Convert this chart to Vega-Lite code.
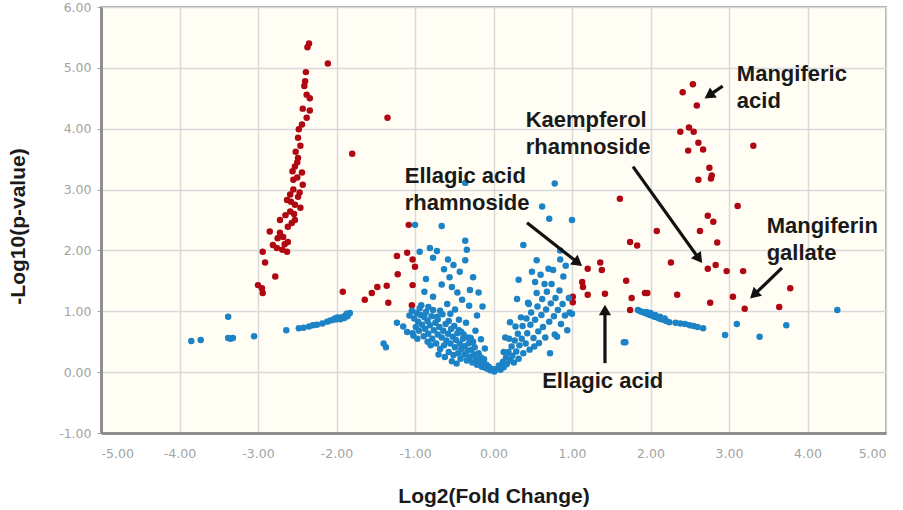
{
  "$schema": "https://vega.github.io/schema/vega-lite/v6.json",
  "width": 785,
  "height": 426,
  "autosize": {"type": "none"},
  "padding": {"left": 101, "top": 7, "right": 17, "bottom": 77},
  "background": "white",
  "config": {
    "view": {"fill": "#fffdf4", "stroke": "#a8a8a8", "strokeWidth": 2},
    "axis": {
      "labelFont": "DejaVu Sans",
      "labelFontSize": 12.5,
      "labelColor": "#a3a3a3",
      "gridColor": "#d9d9d9",
      "gridWidth": 1.5,
      "domainColor": "#8e8e8e",
      "domainWidth": 3,
      "tickColor": "#a3a3a3",
      "titleFont": "Liberation Sans",
      "titleFontSize": 21,
      "titleFontWeight": "bold",
      "titleColor": "#1a1a1a"
    }
  },
  "datasets": {
    "pts": [
      {"x": -2.35, "y": 5.40, "g": "s"}, {"x": -2.37, "y": 5.34, "g": "s"}, {"x": -2.11, "y": 5.07, "g": "s"},
      {"x": -2.39, "y": 4.93, "g": "s"}, {"x": -2.40, "y": 4.78, "g": "s"}, {"x": -2.41, "y": 4.70, "g": "s"},
      {"x": -2.38, "y": 4.56, "g": "s"}, {"x": -2.34, "y": 4.50, "g": "s"}, {"x": -2.43, "y": 4.33, "g": "s"},
      {"x": -2.34, "y": 4.30, "g": "s"}, {"x": -2.38, "y": 4.18, "g": "s"}, {"x": -2.44, "y": 4.07, "g": "s"},
      {"x": -2.48, "y": 3.99, "g": "s"}, {"x": -2.49, "y": 3.85, "g": "s"}, {"x": -1.35, "y": 4.18, "g": "s"},
      {"x": -1.80, "y": 3.59, "g": "s"}, {"x": -2.49, "y": 3.52, "g": "s"}, {"x": -2.53, "y": 3.38, "g": "s"},
      {"x": -2.50, "y": 3.45, "g": "s"}, {"x": -2.44, "y": 3.28, "g": "s"}, {"x": -2.55, "y": 3.16, "g": "s"},
      {"x": -2.43, "y": 3.08, "g": "s"}, {"x": -2.50, "y": 3.20, "g": "s"}, {"x": -2.59, "y": 2.92, "g": "s"},
      {"x": -2.49, "y": 2.88, "g": "s"}, {"x": -2.55, "y": 3.00, "g": "s"}, {"x": -2.63, "y": 2.83, "g": "s"},
      {"x": -2.53, "y": 2.75, "g": "s"}, {"x": -2.46, "y": 2.70, "g": "s"}, {"x": -2.59, "y": 2.64, "g": "s"},
      {"x": -2.54, "y": 2.60, "g": "s"}, {"x": -2.72, "y": 2.50, "g": "s"}, {"x": -2.53, "y": 2.50, "g": "s"},
      {"x": -2.62, "y": 2.39, "g": "s"}, {"x": -2.85, "y": 2.31, "g": "s"}, {"x": -2.72, "y": 2.29, "g": "s"},
      {"x": -2.68, "y": 2.22, "g": "s"}, {"x": -2.62, "y": 2.14, "g": "s"}, {"x": -2.81, "y": 2.09, "g": "s"},
      {"x": -2.76, "y": 2.04, "g": "s"}, {"x": -2.69, "y": 2.01, "g": "s"}, {"x": -2.63, "y": 1.98, "g": "s"},
      {"x": -2.94, "y": 1.98, "g": "s"}, {"x": -2.91, "y": 1.80, "g": "s"}, {"x": -2.78, "y": 1.57, "g": "s"},
      {"x": -3.00, "y": 1.43, "g": "s"}, {"x": -2.95, "y": 1.38, "g": "s"}, {"x": -2.94, "y": 1.30, "g": "s"},
      {"x": -2.58, "y": 2.80, "g": "s"}, {"x": -2.65, "y": 2.58, "g": "s"}, {"x": -2.47, "y": 2.95, "g": "s"},
      {"x": -2.57, "y": 2.45, "g": "s"}, {"x": -2.75, "y": 2.20, "g": "s"}, {"x": -2.66, "y": 2.10, "g": "s"},
      {"x": -2.52, "y": 3.62, "g": "s"}, {"x": -2.46, "y": 3.72, "g": "s"}, {"x": -2.56, "y": 3.30, "g": "s"},
      {"x": -1.92, "y": 1.32, "g": "s"}, {"x": -1.64, "y": 1.19, "g": "s"}, {"x": -1.55, "y": 1.30, "g": "s"},
      {"x": -1.48, "y": 1.40, "g": "s"}, {"x": -1.36, "y": 1.42, "g": "s"}, {"x": -1.34, "y": 1.14, "g": "s"},
      {"x": -1.23, "y": 1.91, "g": "s"}, {"x": -1.22, "y": 1.61, "g": "s"}, {"x": -1.08, "y": 2.42, "g": "s"},
      {"x": -1.10, "y": 1.96, "g": "s"}, {"x": -1.03, "y": 1.85, "g": "s"}, {"x": -1.00, "y": 1.73, "g": "s"},
      {"x": -1.03, "y": 1.43, "g": "s"}, {"x": -1.04, "y": 1.10, "g": "s"},
      {"x": 1.61, "y": 2.85, "g": "s"}, {"x": 2.08, "y": 2.32, "g": "s"}, {"x": 1.74, "y": 2.14, "g": "s"},
      {"x": 1.83, "y": 2.08, "g": "s"}, {"x": 1.36, "y": 1.80, "g": "s"}, {"x": 1.38, "y": 1.68, "g": "s"},
      {"x": 1.20, "y": 1.70, "g": "s"}, {"x": 1.13, "y": 1.48, "g": "s"}, {"x": 1.14, "y": 1.40, "g": "s"},
      {"x": 1.20, "y": 1.27, "g": "s"}, {"x": 1.42, "y": 1.29, "g": "s"}, {"x": 1.01, "y": 1.24, "g": "s"},
      {"x": 1.01, "y": 1.15, "g": "s"}, {"x": 1.69, "y": 1.50, "g": "s"}, {"x": 1.76, "y": 1.22, "g": "s"},
      {"x": 1.93, "y": 1.30, "g": "s"}, {"x": 1.74, "y": 1.02, "g": "s"}, {"x": 2.54, "y": 4.73, "g": "s"},
      {"x": 2.41, "y": 4.60, "g": "s"}, {"x": 2.59, "y": 4.38, "g": "s"}, {"x": 2.38, "y": 3.95, "g": "s"},
      {"x": 2.49, "y": 4.02, "g": "s"}, {"x": 2.55, "y": 3.95, "g": "s"}, {"x": 2.61, "y": 3.77, "g": "s"},
      {"x": 2.67, "y": 3.66, "g": "s"}, {"x": 2.48, "y": 3.64, "g": "s"}, {"x": 3.31, "y": 3.72, "g": "s"},
      {"x": 2.75, "y": 3.36, "g": "s"}, {"x": 2.78, "y": 3.23, "g": "s"}, {"x": 2.77, "y": 3.18, "g": "s"},
      {"x": 2.61, "y": 3.16, "g": "s"}, {"x": 3.11, "y": 2.73, "g": "s"}, {"x": 2.73, "y": 2.57, "g": "s"},
      {"x": 2.80, "y": 2.47, "g": "s"}, {"x": 2.63, "y": 2.32, "g": "s"}, {"x": 2.85, "y": 2.13, "g": "s"},
      {"x": 2.26, "y": 1.80, "g": "s"}, {"x": 2.73, "y": 1.70, "g": "s"}, {"x": 2.83, "y": 1.76, "g": "s"},
      {"x": 2.97, "y": 1.66, "g": "s"}, {"x": 3.18, "y": 1.66, "g": "s"}, {"x": 1.96, "y": 1.30, "g": "s"},
      {"x": 2.34, "y": 1.27, "g": "s"}, {"x": 2.76, "y": 1.14, "g": "s"}, {"x": 3.05, "y": 1.24, "g": "s"},
      {"x": 3.20, "y": 1.04, "g": "s"}, {"x": 3.78, "y": 1.38, "g": "s"}, {"x": 3.64, "y": 1.07, "g": "s"},

      {"x": -3.85, "y": 0.51, "g": "n"}, {"x": -3.73, "y": 0.53, "g": "n"}, {"x": -3.38, "y": 0.91, "g": "n"},
      {"x": -3.38, "y": 0.56, "g": "n"}, {"x": -3.32, "y": 0.56, "g": "n"}, {"x": -3.35, "y": 0.55, "g": "n"},
      {"x": -3.05, "y": 0.59, "g": "n"}, {"x": -2.64, "y": 0.69, "g": "n"}, {"x": -2.48, "y": 0.72, "g": "n"},
      {"x": -2.42, "y": 0.73, "g": "n"}, {"x": -2.35, "y": 0.75, "g": "n"}, {"x": -2.30, "y": 0.77, "g": "n"},
      {"x": -2.25, "y": 0.78, "g": "n"}, {"x": -2.18, "y": 0.80, "g": "n"}, {"x": -2.12, "y": 0.83, "g": "n"},
      {"x": -2.08, "y": 0.85, "g": "n"}, {"x": -2.04, "y": 0.86, "g": "n"}, {"x": -2.00, "y": 0.87, "g": "n"},
      {"x": -1.97, "y": 0.89, "g": "n"}, {"x": -1.94, "y": 0.90, "g": "n"}, {"x": -1.91, "y": 0.91, "g": "n"},
      {"x": -1.88, "y": 0.93, "g": "n"}, {"x": -1.85, "y": 0.95, "g": "n"}, {"x": -1.83, "y": 0.97, "g": "n"},
      {"x": -1.95, "y": 0.87, "g": "n"}, {"x": -1.90, "y": 0.89, "g": "n"}, {"x": -1.86, "y": 0.92, "g": "n"},
      {"x": -2.02, "y": 0.88, "g": "n"}, {"x": -1.99, "y": 0.90, "g": "n"}, {"x": -1.87, "y": 0.96, "g": "n"},
      {"x": -1.37, "y": 0.41, "g": "n"}, {"x": -1.40, "y": 0.47, "g": "n"}, {"x": -1.23, "y": 0.81, "g": "n"},
      {"x": -1.10, "y": 0.66, "g": "n"}, {"x": -1.03, "y": 0.64, "g": "n"}, {"x": -1.15, "y": 0.75, "g": "n"},
      {"x": -1.04, "y": 1.01, "g": "n"}, {"x": -0.98, "y": 0.97, "g": "n"}, {"x": -1.01, "y": 0.88, "g": "n"},
      {"x": -0.96, "y": 0.83, "g": "n"}, {"x": -0.93, "y": 0.94, "g": "n"}, {"x": -0.91, "y": 0.78, "g": "n"},
      {"x": -0.88, "y": 0.90, "g": "n"}, {"x": -0.87, "y": 0.71, "g": "n"}, {"x": -0.84, "y": 0.84, "g": "n"},
      {"x": -0.83, "y": 0.63, "g": "n"}, {"x": -0.81, "y": 0.77, "g": "n"}, {"x": -0.79, "y": 0.92, "g": "n"},
      {"x": -0.78, "y": 0.55, "g": "n"}, {"x": -0.76, "y": 0.69, "g": "n"}, {"x": -0.74, "y": 0.81, "g": "n"},
      {"x": -0.73, "y": 0.47, "g": "n"}, {"x": -0.71, "y": 0.62, "g": "n"}, {"x": -0.69, "y": 0.74, "g": "n"},
      {"x": -0.68, "y": 0.38, "g": "n"}, {"x": -0.66, "y": 0.57, "g": "n"}, {"x": -0.64, "y": 0.68, "g": "n"},
      {"x": -0.63, "y": 0.44, "g": "n"}, {"x": -0.61, "y": 0.79, "g": "n"}, {"x": -0.60, "y": 0.52, "g": "n"},
      {"x": -0.58, "y": 0.63, "g": "n"}, {"x": -0.57, "y": 0.33, "g": "n"}, {"x": -0.55, "y": 0.47, "g": "n"},
      {"x": -0.54, "y": 0.71, "g": "n"}, {"x": -0.52, "y": 0.58, "g": "n"}, {"x": -0.51, "y": 0.28, "g": "n"},
      {"x": -0.49, "y": 0.41, "g": "n"}, {"x": -0.48, "y": 0.53, "g": "n"}, {"x": -0.46, "y": 0.64, "g": "n"},
      {"x": -0.45, "y": 0.31, "g": "n"}, {"x": -0.43, "y": 0.47, "g": "n"}, {"x": -0.42, "y": 0.22, "g": "n"},
      {"x": -0.41, "y": 0.38, "g": "n"}, {"x": -0.39, "y": 0.55, "g": "n"}, {"x": -0.37, "y": 0.29, "g": "n"},
      {"x": -0.36, "y": 0.43, "g": "n"}, {"x": -0.34, "y": 0.19, "g": "n"}, {"x": -0.33, "y": 0.35, "g": "n"},
      {"x": -0.31, "y": 0.48, "g": "n"}, {"x": -0.30, "y": 0.25, "g": "n"}, {"x": -0.28, "y": 0.37, "g": "n"},
      {"x": -0.27, "y": 0.16, "g": "n"}, {"x": -0.25, "y": 0.29, "g": "n"}, {"x": -0.24, "y": 0.41, "g": "n"},
      {"x": -0.22, "y": 0.21, "g": "n"}, {"x": -0.21, "y": 0.12, "g": "n"}, {"x": -0.19, "y": 0.31, "g": "n"},
      {"x": -0.18, "y": 0.17, "g": "n"}, {"x": -0.16, "y": 0.24, "g": "n"}, {"x": -0.15, "y": 0.09, "g": "n"},
      {"x": -0.13, "y": 0.15, "g": "n"}, {"x": -0.12, "y": 0.21, "g": "n"}, {"x": -0.10, "y": 0.07, "g": "n"},
      {"x": -0.09, "y": 0.12, "g": "n"}, {"x": -0.07, "y": 0.05, "g": "n"}, {"x": -0.06, "y": 0.09, "g": "n"},
      {"x": -0.04, "y": 0.03, "g": "n"}, {"x": -0.02, "y": 0.05, "g": "n"}, {"x": 0.01, "y": 0.01, "g": "n"},
      {"x": -0.89, "y": 0.59, "g": "n"}, {"x": -0.95, "y": 0.68, "g": "n"}, {"x": -0.99, "y": 0.74, "g": "n"},
      {"x": -0.71, "y": 0.87, "g": "n"}, {"x": -0.65, "y": 0.95, "g": "n"}, {"x": -0.57, "y": 0.84, "g": "n"},
      {"x": -0.50, "y": 0.76, "g": "n"}, {"x": -0.44, "y": 0.69, "g": "n"}, {"x": -0.38, "y": 0.62, "g": "n"},
      {"x": -0.32, "y": 0.57, "g": "n"}, {"x": -0.26, "y": 0.50, "g": "n"}, {"x": -0.86, "y": 0.99, "g": "n"},
      {"x": -0.77, "y": 1.02, "g": "n"}, {"x": -0.92, "y": 1.10, "g": "n"}, {"x": -0.62, "y": 0.25, "g": "n"},
      {"x": -0.53, "y": 0.18, "g": "n"}, {"x": -0.47, "y": 0.14, "g": "n"}, {"x": -0.80, "y": 0.44, "g": "n"},
      {"x": -0.70, "y": 0.29, "g": "n"}, {"x": -0.97, "y": 0.55, "g": "n"}, {"x": -1.02, "y": 0.60, "g": "n"},
      {"x": -1.07, "y": 0.93, "g": "n"}, {"x": -0.84, "y": 0.50, "g": "n"},
      {"x": -1.00, "y": 2.42, "g": "n"}, {"x": -0.66, "y": 2.40, "g": "n"}, {"x": -0.36, "y": 2.16, "g": "n"},
      {"x": -0.34, "y": 2.01, "g": "n"}, {"x": -0.81, "y": 2.04, "g": "n"}, {"x": -0.72, "y": 1.99, "g": "n"},
      {"x": -0.94, "y": 1.98, "g": "n"}, {"x": -0.58, "y": 1.85, "g": "n"}, {"x": -0.77, "y": 1.88, "g": "n"},
      {"x": -0.36, "y": 1.84, "g": "n"}, {"x": -0.43, "y": 1.65, "g": "n"}, {"x": -0.26, "y": 1.56, "g": "n"},
      {"x": -0.53, "y": 1.40, "g": "n"}, {"x": -0.46, "y": 1.31, "g": "n"}, {"x": -0.40, "y": 1.19, "g": "n"},
      {"x": -0.77, "y": 1.24, "g": "n"}, {"x": -0.94, "y": 1.05, "g": "n"}, {"x": -0.83, "y": 1.07, "g": "n"},
      {"x": -0.72, "y": 0.91, "g": "n"}, {"x": -0.59, "y": 1.12, "g": "n"}, {"x": -0.49, "y": 1.03, "g": "n"},
      {"x": -0.31, "y": 1.09, "g": "n"}, {"x": -0.21, "y": 0.93, "g": "n"}, {"x": -0.35, "y": 0.81, "g": "n"},
      {"x": -0.23, "y": 0.68, "g": "n"}, {"x": -0.44, "y": 0.86, "g": "n"}, {"x": -0.16, "y": 0.54, "g": "n"},
      {"x": -0.11, "y": 0.39, "g": "n"}, {"x": -0.56, "y": 1.56, "g": "n"}, {"x": -0.66, "y": 1.44, "g": "n"},
      {"x": -0.86, "y": 1.53, "g": "n"}, {"x": -0.51, "y": 1.76, "g": "n"}, {"x": -0.63, "y": 1.69, "g": "n"},
      {"x": -0.19, "y": 1.31, "g": "n"}, {"x": -0.14, "y": 1.08, "g": "n"}, {"x": -0.55, "y": 0.96, "g": "n"},
      {"x": -0.68, "y": 1.01, "g": "n"}, {"x": -0.29, "y": 0.56, "g": "n"}, {"x": -0.41, "y": 0.66, "g": "n"},
      {"x": -0.36, "y": 3.11, "g": "n"}, {"x": -0.88, "y": 1.32, "g": "n"}, {"x": -0.30, "y": 1.35, "g": "n"},
      {"x": 0.04, "y": 0.05, "g": "n"}, {"x": 0.07, "y": 0.11, "g": "n"}, {"x": 0.09, "y": 0.04, "g": "n"},
      {"x": 0.12, "y": 0.17, "g": "n"}, {"x": 0.13, "y": 0.08, "g": "n"}, {"x": 0.16, "y": 0.24, "g": "n"},
      {"x": 0.17, "y": 0.13, "g": "n"}, {"x": 0.19, "y": 0.33, "g": "n"}, {"x": 0.21, "y": 0.19, "g": "n"},
      {"x": 0.23, "y": 0.42, "g": "n"}, {"x": 0.24, "y": 0.27, "g": "n"}, {"x": 0.26, "y": 0.16, "g": "n"},
      {"x": 0.27, "y": 0.52, "g": "n"}, {"x": 0.29, "y": 0.34, "g": "n"}, {"x": 0.31, "y": 0.63, "g": "n"},
      {"x": 0.32, "y": 0.22, "g": "n"}, {"x": 0.33, "y": 0.44, "g": "n"}, {"x": 0.36, "y": 0.55, "g": "n"},
      {"x": 0.37, "y": 0.76, "g": "n"}, {"x": 0.38, "y": 0.31, "g": "n"}, {"x": 0.41, "y": 0.47, "g": "n"},
      {"x": 0.42, "y": 0.88, "g": "n"}, {"x": 0.43, "y": 0.64, "g": "n"}, {"x": 0.46, "y": 0.37, "g": "n"},
      {"x": 0.47, "y": 0.78, "g": "n"}, {"x": 0.48, "y": 0.98, "g": "n"}, {"x": 0.51, "y": 0.56, "g": "n"},
      {"x": 0.52, "y": 0.42, "g": "n"}, {"x": 0.53, "y": 0.86, "g": "n"}, {"x": 0.56, "y": 1.08, "g": "n"},
      {"x": 0.57, "y": 0.67, "g": "n"}, {"x": 0.58, "y": 0.48, "g": "n"}, {"x": 0.61, "y": 0.94, "g": "n"},
      {"x": 0.62, "y": 1.20, "g": "n"}, {"x": 0.63, "y": 0.74, "g": "n"}, {"x": 0.66, "y": 0.57, "g": "n"},
      {"x": 0.67, "y": 1.03, "g": "n"}, {"x": 0.68, "y": 1.32, "g": "n"}, {"x": 0.71, "y": 0.83, "g": "n"},
      {"x": 0.72, "y": 0.31, "g": "n"}, {"x": 0.73, "y": 1.13, "g": "n"}, {"x": 0.74, "y": 1.45, "g": "n"},
      {"x": 0.77, "y": 0.92, "g": "n"}, {"x": 0.78, "y": 0.62, "g": "n"}, {"x": 0.79, "y": 1.22, "g": "n"},
      {"x": 0.81, "y": 0.58, "g": "n"}, {"x": 0.82, "y": 1.02, "g": "n"}, {"x": 0.84, "y": 1.34, "g": "n"},
      {"x": 0.86, "y": 0.79, "g": "n"}, {"x": 0.88, "y": 1.12, "g": "n"}, {"x": 0.89, "y": 1.57, "g": "n"},
      {"x": 0.91, "y": 0.93, "g": "n"}, {"x": 0.94, "y": 0.69, "g": "n"}, {"x": 0.96, "y": 1.22, "g": "n"},
      {"x": 0.97, "y": 0.98, "g": "n"}, {"x": 0.35, "y": 0.90, "g": "n"}, {"x": 0.45, "y": 1.12, "g": "n"},
      {"x": 0.55, "y": 1.30, "g": "n"}, {"x": 0.65, "y": 1.45, "g": "n"}, {"x": 0.20, "y": 0.55, "g": "n"},
      {"x": 0.28, "y": 0.75, "g": "n"}, {"x": 0.13, "y": 0.33, "g": "n"},
      {"x": 0.38, "y": 2.09, "g": "n"}, {"x": 0.55, "y": 1.84, "g": "n"}, {"x": 0.49, "y": 1.65, "g": "n"},
      {"x": 0.53, "y": 1.48, "g": "n"}, {"x": 0.44, "y": 1.14, "g": "n"}, {"x": 0.62, "y": 2.72, "g": "n"},
      {"x": 0.71, "y": 2.52, "g": "n"}, {"x": 1.00, "y": 2.50, "g": "n"}, {"x": 0.78, "y": 3.10, "g": "n"},
      {"x": 0.70, "y": 1.70, "g": "n"}, {"x": 0.85, "y": 2.00, "g": "n"}, {"x": 0.92, "y": 1.75, "g": "n"},
      {"x": 0.30, "y": 1.20, "g": "n"}, {"x": 0.21, "y": 0.82, "g": "n"}, {"x": 0.15, "y": 0.57, "g": "n"},
      {"x": 0.60, "y": 1.60, "g": "n"}, {"x": 0.76, "y": 1.68, "g": "n"}, {"x": 1.00, "y": 0.96, "g": "n"},
      {"x": 0.85, "y": 1.85, "g": "n"}, {"x": 0.32, "y": 1.52, "g": "n"},
      {"x": 1.84, "y": 1.02, "g": "n"}, {"x": 1.87, "y": 1.00, "g": "n"}, {"x": 1.90, "y": 0.99, "g": "n"},
      {"x": 1.93, "y": 0.97, "g": "n"}, {"x": 1.96, "y": 0.96, "g": "n"}, {"x": 1.99, "y": 0.94, "g": "n"},
      {"x": 2.02, "y": 0.93, "g": "n"}, {"x": 2.05, "y": 0.91, "g": "n"}, {"x": 2.08, "y": 0.90, "g": "n"},
      {"x": 2.11, "y": 0.88, "g": "n"}, {"x": 2.14, "y": 0.87, "g": "n"}, {"x": 2.17, "y": 0.86, "g": "n"},
      {"x": 2.20, "y": 0.84, "g": "n"}, {"x": 2.24, "y": 0.82, "g": "n"}, {"x": 1.95, "y": 0.99, "g": "n"},
      {"x": 2.00, "y": 0.97, "g": "n"}, {"x": 2.06, "y": 0.94, "g": "n"}, {"x": 2.12, "y": 0.91, "g": "n"},
      {"x": 2.18, "y": 0.88, "g": "n"}, {"x": 2.32, "y": 0.81, "g": "n"}, {"x": 2.38, "y": 0.80, "g": "n"},
      {"x": 2.44, "y": 0.79, "g": "n"}, {"x": 2.50, "y": 0.77, "g": "n"}, {"x": 2.55, "y": 0.76, "g": "n"},
      {"x": 2.60, "y": 0.74, "g": "n"}, {"x": 2.67, "y": 0.72, "g": "n"},
      {"x": 1.66, "y": 0.49, "g": "n"}, {"x": 1.68, "y": 0.49, "g": "n"}, {"x": 2.95, "y": 0.61, "g": "n"},
      {"x": 3.10, "y": 0.79, "g": "n"}, {"x": 3.39, "y": 0.58, "g": "n"}, {"x": 3.73, "y": 0.77, "g": "n"},
      {"x": 4.38, "y": 1.02, "g": "n"}
    ],
    "arrows": [
      {"id": "a1", "x": 2.92, "y": 4.70, "hx": 2.745, "hy": 4.547},
      {"id": "a2", "x": 1.777, "y": 3.377, "hx": 2.618, "hy": 1.862},
      {"id": "a3", "x": 0.427, "y": 2.455, "hx": 1.076, "hy": 1.796},
      {"id": "a4", "x": 1.42, "y": 0.148, "hx": 1.42, "hy": 1.021},
      {"id": "a5", "x": 3.675, "y": 1.713, "hx": 3.318, "hy": 1.269}
    ],
    "labels": [
      {"x": 3.10, "y": 4.78, "t": ["Mangiferic", "acid"]},
      {"x": 0.41, "y": 4.02, "t": ["Kaempferol", "rhamnoside"]},
      {"x": -1.13, "y": 3.11, "t": ["Ellagic acid", "rhamnoside"]},
      {"x": 3.48, "y": 2.29, "t": ["Mangiferin", "gallate"]},
      {"x": 0.62, "y": -0.26, "t": ["Ellagic acid"]}
    ]
  },
  "layer": [
    {
      "data": {"name": "pts"},
      "mark": {"type": "circle", "size": 42, "opacity": 1},
      "encoding": {
        "x": {
          "field": "x", "type": "quantitative",
          "scale": {"domain": [-5, 5], "nice": false, "zero": false},
          "axis": {
            "values": [-5, -4, -3, -2, -1, 0, 1, 2, 3, 4, 5],
            "labelExpr": "replace(format(datum.value, '.2f'), '\u2212', '-')",
            "ticks": false, "tickSize": 0, "labelPadding": 14,
            "title": "Log2(Fold Change)", "titleX": 392.5, "titleY": 63,
            "titleBaseline": "middle", "titleAlign": "center"
          }
        },
        "y": {
          "field": "y", "type": "quantitative",
          "scale": {"domain": [-1, 6], "nice": false, "zero": false},
          "axis": {
            "values": [-1, 0, 1, 2, 3, 4, 5, 6],
            "labelExpr": "replace(format(datum.value, '.2f'), '\u2212', '-')",
            "tickSize": 4, "labelPadding": 6,
            "title": "-Log10(p-value)", "titleX": -83, "titleY": 219,
            "titleAngle": -90, "titleBaseline": "middle", "titleAlign": "center"
          }
        },
        "color": {
          "field": "g", "type": "nominal",
          "scale": {"domain": ["s", "n"], "range": ["#b00812", "#1c83c6"]},
          "legend": null
        }
      }
    },
    {
      "data": {"name": "arrows"},
      "mark": {"type": "rule", "color": "#111111", "strokeWidth": 3.2},
      "encoding": {
        "x": {"field": "x", "type": "quantitative", "title": "Log2(Fold Change)"},
        "y": {"field": "y", "type": "quantitative", "title": "-Log10(p-value)"},
        "x2": {"field": "hx"},
        "y2": {"field": "hy"}
      }
    },
    {
      "data": {"name": "arrows"},
      "transform": [{"filter": "datum.id == 'a1'"}],
      "mark": {"type": "point", "shape": "triangle-up", "filled": true, "size": 150, "angle": 236, "color": "#111111", "opacity": 1},
      "encoding": {
        "x": {"field": "hx", "type": "quantitative", "title": "Log2(Fold Change)"},
        "y": {"field": "hy", "type": "quantitative", "title": "-Log10(p-value)"}
      }
    },
    {
      "data": {"name": "arrows"},
      "transform": [{"filter": "datum.id == 'a2'"}],
      "mark": {"type": "point", "shape": "triangle-up", "filled": true, "size": 150, "angle": 144, "color": "#111111", "opacity": 1},
      "encoding": {
        "x": {"field": "hx", "type": "quantitative", "title": "Log2(Fold Change)"},
        "y": {"field": "hy", "type": "quantitative", "title": "-Log10(p-value)"}
      }
    },
    {
      "data": {"name": "arrows"},
      "transform": [{"filter": "datum.id == 'a3'"}],
      "mark": {"type": "point", "shape": "triangle-up", "filled": true, "size": 150, "angle": 128, "color": "#111111", "opacity": 1},
      "encoding": {
        "x": {"field": "hx", "type": "quantitative", "title": "Log2(Fold Change)"},
        "y": {"field": "hy", "type": "quantitative", "title": "-Log10(p-value)"}
      }
    },
    {
      "data": {"name": "arrows"},
      "transform": [{"filter": "datum.id == 'a4'"}],
      "mark": {"type": "point", "shape": "triangle-up", "filled": true, "size": 150, "angle": 0, "color": "#111111", "opacity": 1},
      "encoding": {
        "x": {"field": "hx", "type": "quantitative", "title": "Log2(Fold Change)"},
        "y": {"field": "hy", "type": "quantitative", "title": "-Log10(p-value)"}
      }
    },
    {
      "data": {"name": "arrows"},
      "transform": [{"filter": "datum.id == 'a5'"}],
      "mark": {"type": "point", "shape": "triangle-up", "filled": true, "size": 150, "angle": 227, "color": "#111111", "opacity": 1},
      "encoding": {
        "x": {"field": "hx", "type": "quantitative", "title": "Log2(Fold Change)"},
        "y": {"field": "hy", "type": "quantitative", "title": "-Log10(p-value)"}
      }
    },
    {
      "data": {"name": "labels"},
      "mark": {"type": "text", "align": "left", "baseline": "alphabetic", "font": "Liberation Sans", "fontSize": 22, "fontWeight": "bold", "lineHeight": 27, "color": "#1a1a1a"},
      "encoding": {
        "x": {"field": "x", "type": "quantitative", "title": "Log2(Fold Change)"},
        "y": {"field": "y", "type": "quantitative", "title": "-Log10(p-value)"},
        "text": {"field": "t"}
      }
    }
  ]
}
